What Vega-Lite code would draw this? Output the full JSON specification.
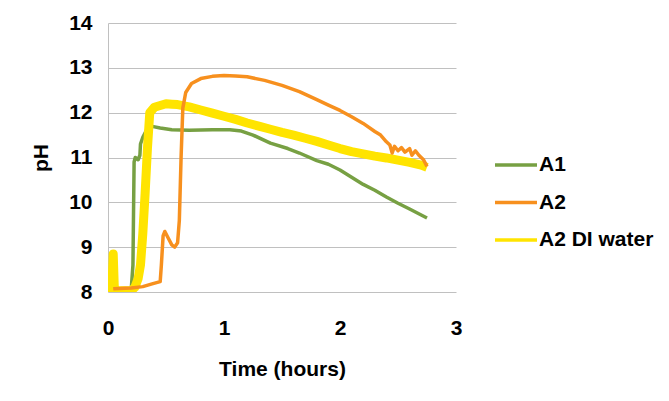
{
  "$schema": "https://vega.github.io/schema/vega-lite/v6.json",
  "description": "pH over time for A1, A2 and A2 DI water.",
  "width": 348,
  "height": 269,
  "autosize": "none",
  "padding": {"left": 108, "top": 23, "right": 213, "bottom": 109},
  "background": "white",
  "data": {
    "values": [
      {"series": "A1", "t": 0.2, "ph": 8.05},
      {"series": "A1", "t": 0.215, "ph": 8.6},
      {"series": "A1", "t": 0.225, "ph": 10.9},
      {"series": "A1", "t": 0.235, "ph": 11.0},
      {"series": "A1", "t": 0.26, "ph": 10.95},
      {"series": "A1", "t": 0.275, "ph": 11.05},
      {"series": "A1", "t": 0.28, "ph": 11.3},
      {"series": "A1", "t": 0.3, "ph": 11.45},
      {"series": "A1", "t": 0.33, "ph": 11.6},
      {"series": "A1", "t": 0.37, "ph": 11.7},
      {"series": "A1", "t": 0.45, "ph": 11.66},
      {"series": "A1", "t": 0.55, "ph": 11.62},
      {"series": "A1", "t": 0.7, "ph": 11.61},
      {"series": "A1", "t": 0.9, "ph": 11.62},
      {"series": "A1", "t": 1.05, "ph": 11.62},
      {"series": "A1", "t": 1.15, "ph": 11.59},
      {"series": "A1", "t": 1.25, "ph": 11.5},
      {"series": "A1", "t": 1.4, "ph": 11.32},
      {"series": "A1", "t": 1.55, "ph": 11.2},
      {"series": "A1", "t": 1.65, "ph": 11.1},
      {"series": "A1", "t": 1.8, "ph": 10.93},
      {"series": "A1", "t": 1.9, "ph": 10.85},
      {"series": "A1", "t": 2.0, "ph": 10.72},
      {"series": "A1", "t": 2.1, "ph": 10.56},
      {"series": "A1", "t": 2.2, "ph": 10.4},
      {"series": "A1", "t": 2.3, "ph": 10.27},
      {"series": "A1", "t": 2.4, "ph": 10.12},
      {"series": "A1", "t": 2.5, "ph": 9.98},
      {"series": "A1", "t": 2.6, "ph": 9.85},
      {"series": "A1", "t": 2.75, "ph": 9.65},

      {"series": "A2", "t": 0.045, "ph": 8.07},
      {"series": "A2", "t": 0.1, "ph": 8.08},
      {"series": "A2", "t": 0.2, "ph": 8.09},
      {"series": "A2", "t": 0.3, "ph": 8.12},
      {"series": "A2", "t": 0.38, "ph": 8.18},
      {"series": "A2", "t": 0.45, "ph": 8.23},
      {"series": "A2", "t": 0.46, "ph": 8.6},
      {"series": "A2", "t": 0.475, "ph": 9.25},
      {"series": "A2", "t": 0.49, "ph": 9.35},
      {"series": "A2", "t": 0.52, "ph": 9.2},
      {"series": "A2", "t": 0.55, "ph": 9.05},
      {"series": "A2", "t": 0.575, "ph": 9.0},
      {"series": "A2", "t": 0.6, "ph": 9.1},
      {"series": "A2", "t": 0.615, "ph": 9.6},
      {"series": "A2", "t": 0.63, "ph": 11.0},
      {"series": "A2", "t": 0.645, "ph": 12.1},
      {"series": "A2", "t": 0.67, "ph": 12.45},
      {"series": "A2", "t": 0.72, "ph": 12.65},
      {"series": "A2", "t": 0.8, "ph": 12.76},
      {"series": "A2", "t": 0.9, "ph": 12.81},
      {"series": "A2", "t": 1.0, "ph": 12.83},
      {"series": "A2", "t": 1.1, "ph": 12.82},
      {"series": "A2", "t": 1.2, "ph": 12.8},
      {"series": "A2", "t": 1.35, "ph": 12.72},
      {"series": "A2", "t": 1.5, "ph": 12.61},
      {"series": "A2", "t": 1.65, "ph": 12.47},
      {"series": "A2", "t": 1.8, "ph": 12.29},
      {"series": "A2", "t": 1.9, "ph": 12.17},
      {"series": "A2", "t": 2.0, "ph": 12.05},
      {"series": "A2", "t": 2.1, "ph": 11.91},
      {"series": "A2", "t": 2.2, "ph": 11.76},
      {"series": "A2", "t": 2.3, "ph": 11.58},
      {"series": "A2", "t": 2.35, "ph": 11.5},
      {"series": "A2", "t": 2.4, "ph": 11.35},
      {"series": "A2", "t": 2.43, "ph": 11.28},
      {"series": "A2", "t": 2.45, "ph": 11.1},
      {"series": "A2", "t": 2.47, "ph": 11.25},
      {"series": "A2", "t": 2.5, "ph": 11.15},
      {"series": "A2", "t": 2.53, "ph": 11.22},
      {"series": "A2", "t": 2.56, "ph": 11.12},
      {"series": "A2", "t": 2.6, "ph": 11.2},
      {"series": "A2", "t": 2.62, "ph": 11.05},
      {"series": "A2", "t": 2.65, "ph": 11.15},
      {"series": "A2", "t": 2.68, "ph": 11.05},
      {"series": "A2", "t": 2.72, "ph": 10.95},
      {"series": "A2", "t": 2.75, "ph": 10.8},

      {"series": "A2 DI water", "t": 0.0, "ph": 8.35},
      {"series": "A2 DI water", "t": 0.008, "ph": 8.0},
      {"series": "A2 DI water", "t": 0.015, "ph": 8.3},
      {"series": "A2 DI water", "t": 0.025, "ph": 8.02},
      {"series": "A2 DI water", "t": 0.035, "ph": 8.2},
      {"series": "A2 DI water", "t": 0.045, "ph": 8.85},
      {"series": "A2 DI water", "t": 0.055, "ph": 8.05},
      {"series": "A2 DI water", "t": 0.07, "ph": 8.02},
      {"series": "A2 DI water", "t": 0.12, "ph": 8.03},
      {"series": "A2 DI water", "t": 0.2, "ph": 8.03},
      {"series": "A2 DI water", "t": 0.23, "ph": 8.1},
      {"series": "A2 DI water", "t": 0.26, "ph": 8.3},
      {"series": "A2 DI water", "t": 0.28, "ph": 8.6},
      {"series": "A2 DI water", "t": 0.3, "ph": 9.3},
      {"series": "A2 DI water", "t": 0.32, "ph": 10.2},
      {"series": "A2 DI water", "t": 0.34, "ph": 11.2},
      {"series": "A2 DI water", "t": 0.36, "ph": 12.0},
      {"series": "A2 DI water", "t": 0.38, "ph": 12.06},
      {"series": "A2 DI water", "t": 0.4, "ph": 12.12},
      {"series": "A2 DI water", "t": 0.45, "ph": 12.16},
      {"series": "A2 DI water", "t": 0.5, "ph": 12.2},
      {"series": "A2 DI water", "t": 0.55, "ph": 12.19},
      {"series": "A2 DI water", "t": 0.6, "ph": 12.18},
      {"series": "A2 DI water", "t": 0.7, "ph": 12.13},
      {"series": "A2 DI water", "t": 0.8, "ph": 12.06},
      {"series": "A2 DI water", "t": 0.9, "ph": 11.99},
      {"series": "A2 DI water", "t": 1.0, "ph": 11.92},
      {"series": "A2 DI water", "t": 1.1, "ph": 11.85},
      {"series": "A2 DI water", "t": 1.2, "ph": 11.77},
      {"series": "A2 DI water", "t": 1.3, "ph": 11.7},
      {"series": "A2 DI water", "t": 1.4, "ph": 11.63},
      {"series": "A2 DI water", "t": 1.5, "ph": 11.56},
      {"series": "A2 DI water", "t": 1.6, "ph": 11.5},
      {"series": "A2 DI water", "t": 1.7, "ph": 11.43},
      {"series": "A2 DI water", "t": 1.8, "ph": 11.36},
      {"series": "A2 DI water", "t": 1.9, "ph": 11.28},
      {"series": "A2 DI water", "t": 2.0, "ph": 11.2},
      {"series": "A2 DI water", "t": 2.1, "ph": 11.13},
      {"series": "A2 DI water", "t": 2.2, "ph": 11.08},
      {"series": "A2 DI water", "t": 2.3, "ph": 11.03},
      {"series": "A2 DI water", "t": 2.4, "ph": 10.99},
      {"series": "A2 DI water", "t": 2.5, "ph": 10.94},
      {"series": "A2 DI water", "t": 2.6, "ph": 10.89},
      {"series": "A2 DI water", "t": 2.7, "ph": 10.83},
      {"series": "A2 DI water", "t": 2.75, "ph": 10.78}
    ]
  },
  "encoding": {
    "x": {
      "field": "t",
      "type": "quantitative",
      "title": "Time (hours)",
      "scale": {"domain": [0, 3], "nice": false},
      "axis": {
        "values": [0, 1, 2, 3],
        "grid": false,
        "ticks": false,
        "domain": false,
        "labelFlush": false,
        "labelPadding": 25,
        "titlePadding": 20
      }
    },
    "y": {
      "field": "ph",
      "type": "quantitative",
      "title": "pH",
      "scale": {"domain": [8, 14], "nice": false, "zero": false},
      "axis": {
        "values": [8, 9, 10, 11, 12, 13, 14],
        "ticks": false,
        "domain": true,
        "labelPadding": 16,
        "titlePadding": 17
      }
    },
    "color": {
      "field": "series",
      "type": "nominal",
      "title": null,
      "scale": {
        "domain": ["A1", "A2", "A2 DI water"],
        "range": ["#77a043", "#f7901e", "#ffe400"]
      },
      "legend": {
        "symbolType": "stroke",
        "symbolSize": 1764,
        "symbolStrokeWidth": 3.5
      }
    }
  },
  "layer": [
    {
      "transform": [{"filter": "datum.series === 'A1'"}],
      "mark": {"type": "line", "strokeWidth": 3.5, "strokeJoin": "round", "clip": true}
    },
    {
      "transform": [{"filter": "datum.series === 'A2 DI water'"}],
      "mark": {"type": "line", "strokeWidth": 9, "strokeJoin": "round", "clip": true}
    },
    {
      "transform": [{"filter": "datum.series === 'A2'"}],
      "mark": {"type": "line", "strokeWidth": 3.5, "strokeJoin": "round", "clip": true}
    }
  ],
  "config": {
    "view": {"stroke": null},
    "font": "Liberation Sans",
    "axis": {
      "labelFont": "Liberation Sans",
      "labelFontSize": 21,
      "labelFontWeight": "bold",
      "labelColor": "#000000",
      "titleFont": "Liberation Sans",
      "titleFontSize": 21,
      "titleFontWeight": "bold",
      "titleColor": "#000000",
      "gridColor": "#c0c0c0",
      "gridWidth": 1,
      "domainColor": "#c0c0c0",
      "domainWidth": 1
    },
    "legend": {
      "orient": "none",
      "legendX": 385,
      "legendY": 119,
      "rowPadding": 4.5,
      "labelOffset": 0,
      "labelFont": "Liberation Sans",
      "labelFontSize": 21,
      "labelFontWeight": "bold",
      "labelColor": "#000000",
      "labelLimit": 0
    }
  }
}
